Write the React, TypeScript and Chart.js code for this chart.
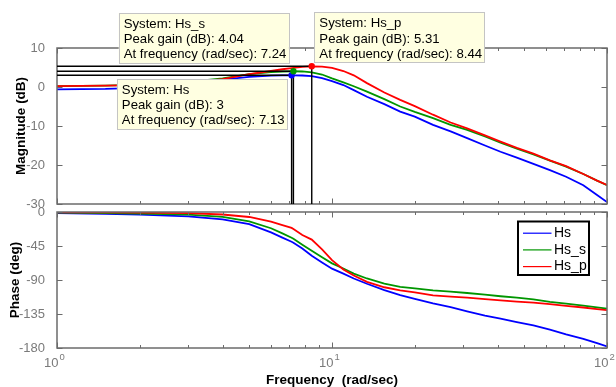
import React, { useEffect, useRef } from "react";
import { Chart, registerables } from "chart.js";

Chart.register(...registerables);

// ---------------- data ----------------
const freq = [1, 1.5, 2, 3, 4, 5, 6, 6.6, 7.13, 7.24, 7.8, 8.44, 9.2, 10, 11, 12, 13.4, 15.5, 17.7, 20, 23.3, 27, 31, 36, 41, 47, 54, 62, 71, 82, 92, 100];

const magHs = [-0.6, -0.5, -0.2, 0.6, 1.9, 2.6, 2.9, 2.98, 3.0, 3.0, 2.95, 2.8, 2.25, 1.5, 0.5, -0.8, -2.5, -4.4, -6.3, -7.6, -9.7, -11.4, -13.1, -15, -16.6, -18.1, -19.7, -21.3, -23, -25.2, -27.7, -29.5];
const magHs_s = [0.2, 0.35, 0.6, 1.3, 2.2, 3.3, 3.8, 3.98, 4.03, 4.04, 3.98, 3.75, 3.2, 2.2, 1.2, 0.2, -1.2, -3.1, -5, -6.4, -8, -9.7, -11, -12.7, -14.3, -15.8, -17.3, -18.9, -20.4, -22.3, -24, -25.2];
const magHs_p = [0.2, 0.35, 0.5, 1.1, 2.0, 3.3, 4.1, 4.55, 4.85, 4.92, 5.18, 5.31, 5.25, 4.9, 4.1, 3.0, 1.0, -1.4, -3.3, -4.9, -7.1, -9.1, -10.6, -12.4, -14.0, -15.6, -17.1, -18.8, -20.3, -22.3, -24, -25.1];

const phHs = [-1.5, -2.5, -3.5, -5.7, -9.7, -16, -27, -34, -39.4, -40.7, -48.2, -58, -66.7, -75, -81.5, -88, -95, -103.5, -110, -115, -121, -126, -131.5, -137, -141, -145.7, -150, -155.8, -162, -168, -173.6, -178];
const phHs_s = [-0.9, -1.5, -2.2, -3.6, -6.5, -12.4, -21.5, -28.3, -34, -35.4, -43.3, -51.4, -60, -68, -74.8, -81.5, -88, -94.7, -99, -101, -103.6, -105.4, -107.2, -109.4, -111.5, -113.4, -115.6, -119, -121.3, -124, -126.2, -128];
const phHs_p = [-0.3, -0.6, -0.9, -1.6, -3.3, -6.6, -12.6, -17.3, -21.1, -22.6, -30.5, -36.5, -49.6, -63.7, -76, -84, -92.5, -99.6, -103.6, -106.3, -110.3, -112, -113.4, -115.2, -117, -118.5, -119.9, -122, -124.2, -126.4, -128.6, -130];

const seriesNames = ["Hs", "Hs_s", "Hs_p"];
const seriesColors = ["#0000ff", "#009600", "#ff0000"];
const magSeries = [magHs, magHs_s, magHs_p];
const phaseSeries = [phHs, phHs_s, phHs_p];

const peakGain = [3, 4.04, 5.31];
const peakFreq = [7.13, 7.24, 8.44];

const magTicks = [-30, -20, -10, 0, 10];
const phaseTicks = [-180, -135, -90, -45, 0];
const decadeExps = [0, 1, 2];
const minorMultipliers = [2, 3, 4, 5, 6, 7, 8, 9];

// ---------------- style ----------------
const FONT = '"Liberation Sans", Arial, Helvetica, sans-serif';
const AXIS_COLOR = "#6b6b6b";
const TICK_TEXT = "#7a7a7a";
const W = 616;
const H = 387;

function framePlugin(drawXLabels: boolean) {
  return {
    id: "frameTicks",
    afterDraw(chart: any) {
      const { ctx, chartArea: a, scales } = chart;
      const xs = scales.x;
      const ys = scales.y;
      ctx.save();
      ctx.strokeStyle = AXIS_COLOR;
      ctx.lineWidth = 1;
      ctx.beginPath();
      const majors = decadeExps.map((e) => Math.pow(10, e));
      const minors: number[] = [];
      for (let i = 0; i < decadeExps.length - 1; i++) {
        for (const m of minorMultipliers) minors.push(m * Math.pow(10, decadeExps[i]));
      }
      const tickX = (v: number, len: number) => {
        const px = Math.round(xs.getPixelForValue(v)) + 0.5;
        ctx.moveTo(px, a.bottom);
        ctx.lineTo(px, a.bottom - len);
        ctx.moveTo(px, a.top);
        ctx.lineTo(px, a.top + len);
      };
      majors.forEach((v) => tickX(v, 5.5));
      minors.forEach((v) => tickX(v, 3));
      ys.ticks.forEach((t: any) => {
        const py = Math.round(ys.getPixelForValue(t.value)) + 0.5;
        ctx.moveTo(a.left, py);
        ctx.lineTo(a.left + 5.5, py);
        ctx.moveTo(a.right, py);
        ctx.lineTo(a.right - 5.5, py);
      });
      ctx.stroke();
      ctx.lineWidth = 1.5;
      ctx.strokeRect(a.left, a.top, a.right - a.left, a.bottom - a.top);

      if (drawXLabels) {
        ctx.fillStyle = TICK_TEXT;
        ctx.textBaseline = "alphabetic";
        decadeExps.forEach((e) => {
          const px = xs.getPixelForValue(Math.pow(10, e));
          ctx.font = `13px ${FONT}`;
          ctx.textAlign = "right";
          ctx.fillText("10", px + 1.5, a.bottom + 19);
          ctx.font = `9.5px ${FONT}`;
          ctx.textAlign = "left";
          ctx.fillText(String(e), px + 2.5, a.bottom + 12);
        });
      }
      ctx.restore();
    },
  };
}

const tipPlugin = {
  id: "dataTips",
  afterDraw(chart: any) {
    const { ctx, chartArea: a, scales } = chart;
    const xs = scales.x;
    const ys = scales.y;
    ctx.save();
    const pts = peakFreq.map((f, i) => ({ x: xs.getPixelForValue(f), y: ys.getPixelForValue(peakGain[i]) }));
    // reference lines
    ctx.strokeStyle = "#000";
    ctx.lineWidth = 1.4;
    ctx.beginPath();
    pts.forEach((p) => {
      ctx.moveTo(a.left, p.y);
      ctx.lineTo(p.x, p.y);
      ctx.moveTo(p.x, p.y);
      ctx.lineTo(p.x, a.bottom);
    });
    ctx.stroke();
    // markers
    pts.forEach((p, i) => {
      ctx.beginPath();
      ctx.arc(p.x, p.y, 3.2, 0, Math.PI * 2);
      ctx.fillStyle = seriesColors[i];
      ctx.fill();
    });
    // boxes
    ctx.font = `13.2px ${FONT}`;
    const boxH = 50;
    pts.forEach((p, i) => {
      const lines = [
        `System: ${seriesNames[i]}`,
        `Peak gain (dB): ${peakGain[i]}`,
        `At frequency (rad/sec): ${peakFreq[i]}`,
      ];
      const tw = Math.max(...lines.map((l) => ctx.measureText(l).width));
      const bw = tw + 7.5;
      let left = 0;
      let top = 0;
      if (i === 0) {
        left = p.x - 4.5 - bw;
        top = p.y + 3.7;
      } else if (i === 1) {
        left = p.x - 4.5 - bw;
        top = p.y - 8.3 - boxH;
      } else {
        left = p.x + 2.6;
        top = p.y - 4 - boxH;
      }
      ctx.fillStyle = "#ffffe1";
      ctx.fillRect(left, top, bw, boxH);
      ctx.strokeStyle = "#c4c4c4";
      ctx.lineWidth = 1;
      ctx.strokeRect(Math.round(left) + 0.5, Math.round(top) + 0.5, Math.round(bw), boxH);
      ctx.fillStyle = "#000";
      ctx.textAlign = "left";
      ctx.textBaseline = "middle";
      lines.forEach((l, k) => ctx.fillText(l, left + 5, top + 11.5 + 15.1 * k));
    });
    ctx.restore();
  },
};

const legendPlugin = {
  id: "boxLegend",
  afterDraw(chart: any) {
    const { ctx, chartArea: a } = chart;
    ctx.save();
    const bw = 71;
    const bh = 53.5;
    const left = a.right - 18 - bw;
    const top = a.top + 9.5;
    ctx.fillStyle = "#fff";
    ctx.fillRect(left, top, bw, bh);
    ctx.strokeStyle = "#000";
    ctx.lineWidth = 2;
    ctx.strokeRect(left, top, bw, bh);
    ctx.font = `14px ${FONT}`;
    ctx.textBaseline = "middle";
    ctx.textAlign = "left";
    chart.data.datasets.forEach((ds: any, i: number) => {
      const y = top + 11.7 + 16.7 * i;
      ctx.strokeStyle = ds.borderColor;
      ctx.lineWidth = 1.2;
      ctx.beginPath();
      ctx.moveTo(left + 5, y);
      ctx.lineTo(left + 33.5, y);
      ctx.stroke();
      ctx.fillStyle = "#000";
      ctx.fillText(ds.label, left + 36, y);
    });
    ctx.restore();
  },
};

function makeDatasets(series: number[][]) {
  return seriesNames.map((name, i) => ({
    label: name,
    data: freq.map((f, k) => ({ x: f, y: series[i][k] })),
    borderColor: seriesColors[i],
    backgroundColor: seriesColors[i],
    borderWidth: 1.8,
    pointRadius: 0,
    tension: 0,
    fill: false,
    order: 2 - i,
  }));
}

function yAxis(min: number, max: number, ticks: number[], title: string, titlePad: number) {
  return {
    type: "linear" as const,
    min,
    max,
    afterBuildTicks: (s: any) => {
      s.ticks = ticks.map((v) => ({ value: v }));
    },
    afterFit: (s: any) => {
      s.width = 57;
    },
    grid: { display: false },
    border: { display: false },
    ticks: {
      color: TICK_TEXT,
      font: { family: FONT, size: 13 },
      padding: 4,
      autoSkip: false,
      callback: (v: any) => String(v),
    },
    title: {
      display: true,
      text: title,
      color: "#000",
      font: { family: FONT, size: 13.5, weight: "bold" as const },
      padding: { top: titlePad, bottom: 0 },
    },
  };
}

export default function App() {
  const magRef = useRef<HTMLCanvasElement | null>(null);
  const phRef = useRef<HTMLCanvasElement | null>(null);

  useEffect(() => {
    const magChart = new Chart(magRef.current as HTMLCanvasElement, {
      type: "line",
      data: { datasets: makeDatasets(magSeries) as any },
      options: {
        responsive: false,
        animation: false,
        devicePixelRatio: 1,
        layout: { padding: { left: 0, right: 9, top: 48, bottom: 183 } },
        plugins: { legend: { display: false }, tooltip: { enabled: false } },
        scales: {
          x: { type: "logarithmic", min: 1, max: 100, display: false },
          y: yAxis(-30, 10, magTicks, "Magnitude (dB)", 13) as any,
        },
      },
      plugins: [framePlugin(false), tipPlugin],
    });

    const phChart = new Chart(phRef.current as HTMLCanvasElement, {
      type: "line",
      data: { datasets: makeDatasets(phaseSeries) as any },
      options: {
        responsive: false,
        animation: false,
        devicePixelRatio: 1,
        layout: { padding: { left: 0, right: 9, top: 212, bottom: 0 } },
        plugins: { legend: { display: false }, tooltip: { enabled: false } },
        scales: {
          x: {
            type: "logarithmic",
            min: 1,
            max: 100,
            afterFit: (s: any) => {
              s.height = 39;
            },
            grid: { display: false },
            border: { display: false },
            ticks: { display: false },
            title: {
              display: true,
              text: "Frequency  (rad/sec)",
              color: "#000",
              font: { family: FONT, size: 13.5, weight: "bold", lineHeight: 1 },
              padding: { top: 0, bottom: 0 },
            },
          },
          y: yAxis(-180, 0, phaseTicks, "Phase (deg)", 7) as any,
        },
      },
      plugins: [framePlugin(true), legendPlugin],
    });

    return () => {
      magChart.destroy();
      phChart.destroy();
    };
  }, []);

  return (
    <div style={{ position: "absolute", left: 0, top: 0, width: W, height: H, background: "#fff" }}>
      <canvas ref={phRef} width={W} height={H} style={{ position: "absolute", left: 0, top: 0 }} />
      <canvas ref={magRef} width={W} height={H} style={{ position: "absolute", left: 0, top: 0 }} />
    </div>
  );
}
